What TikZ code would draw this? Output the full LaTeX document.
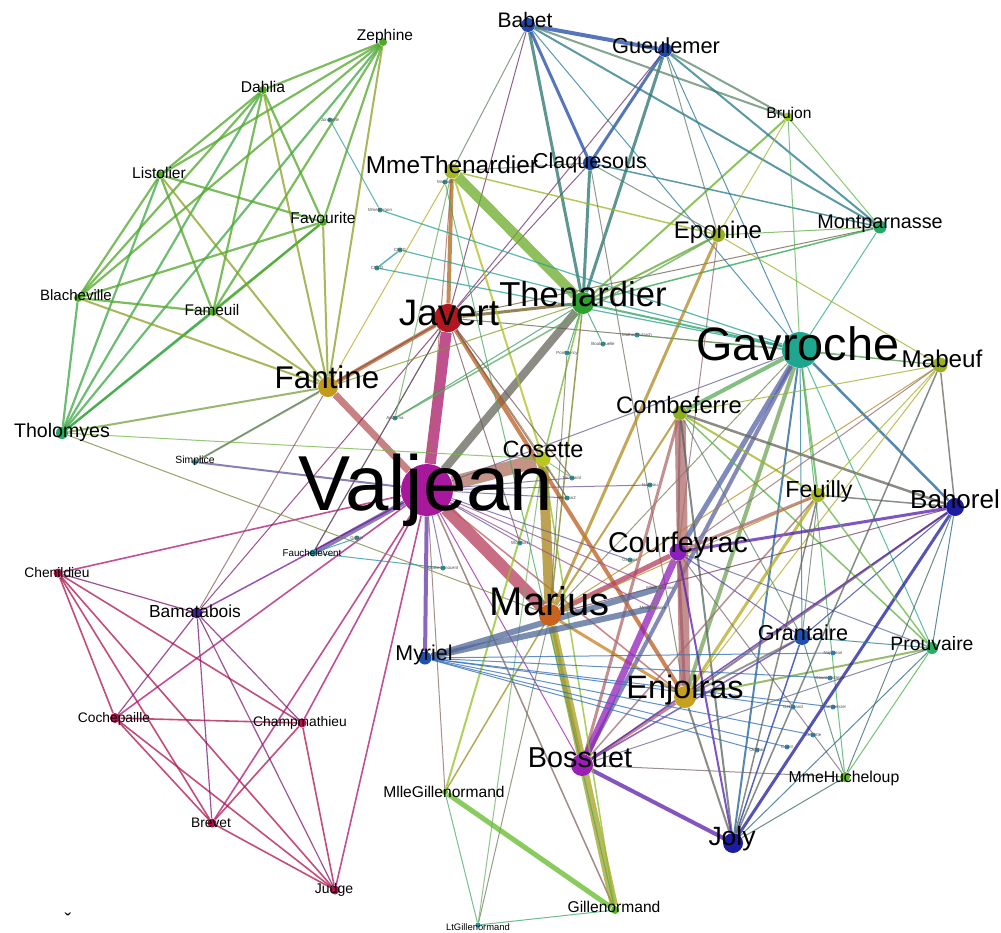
\documentclass[tikz,border=0pt]{standalone}
\usepackage{fontspec}
\setmainfont{Liberation Sans}
\pgfdeclarelayer{bg}
\pgfdeclarelayer{edges}
\pgfdeclarelayer{labels}
\pgfsetlayers{bg,edges,main,labels}
% node colours
\definecolor{cValjean}{HTML}{A8189C}
\definecolor{cJavert}{HTML}{B3161E}
\definecolor{cFantine}{HTML}{C49A1C}
\definecolor{cThenardier}{HTML}{2EA02E}
\definecolor{cMmeThenardier}{HTML}{A8B820}
\definecolor{cGavroche}{HTML}{1FA68E}
\definecolor{cMarius}{HTML}{C8621C}
\definecolor{cCosette}{HTML}{B8C820}
\definecolor{cEnjolras}{HTML}{C6A020}
\definecolor{cBossuet}{HTML}{9A1FB5}
\definecolor{cCourfeyrac}{HTML}{8A1FC0}
\definecolor{cJoly}{HTML}{1C1CA0}
\definecolor{cBahorel}{HTML}{1C1CA0}
\definecolor{cGrantaire}{HTML}{2050B0}
\definecolor{cProuvaire}{HTML}{28B060}
\definecolor{cMmeHucheloup}{HTML}{5AB520}
\definecolor{cMabeuf}{HTML}{9AB020}
\definecolor{cFeuilly}{HTML}{A5B820}
\definecolor{cCombeferre}{HTML}{8EB020}
\definecolor{cEponine}{HTML}{9AB020}
\definecolor{cMontparnasse}{HTML}{26A868}
\definecolor{cBrujon}{HTML}{9BC528}
\definecolor{cClaquesous}{HTML}{2048A8}
\definecolor{cGueulemer}{HTML}{2048A8}
\definecolor{cBabet}{HTML}{2048A8}
\definecolor{cZephine}{HTML}{4FA828}
\colorlet{cDahlia}{cZephine}
\colorlet{cListolier}{cZephine}
\colorlet{cFavourite}{cZephine}
\colorlet{cBlacheville}{cZephine}
\colorlet{cFameuil}{cZephine}
\definecolor{cTholomyes}{HTML}{26A860}
\definecolor{cChenildieu}{HTML}{B0124A}
\colorlet{cCochepaille}{cChenildieu}
\colorlet{cChampmathieu}{cChenildieu}
\colorlet{cBrevet}{cChenildieu}
\colorlet{cJudge}{cChenildieu}
\definecolor{cBamatabois}{HTML}{4A1A9E}
\definecolor{cMyriel}{HTML}{2050B0}
\definecolor{cMlleGillenormand}{HTML}{6BBF2B}
\definecolor{cGillenormand}{HTML}{5BB528}
\definecolor{cLtGillenormand}{HTML}{1F9AA8}
\definecolor{cSimplice}{HTML}{1F8FA8}
\definecolor{cFauchelevent}{HTML}{1F8FA8}
\definecolor{cTiny}{HTML}{2A9A9A}
\definecolor{cTinyB}{HTML}{3A88C0}
\definecolor{rosybrown}{HTML}{B06A6A}
\definecolor{darkgrayedge}{HTML}{66665C}
\colorlet{cJondrette}{cTiny}
\colorlet{cMmeBurgon}{cTiny}
\colorlet{cMagnon}{cTiny}
\colorlet{cChild1}{cTiny}
\colorlet{cChild2}{cTiny}
\colorlet{cAnzelma}{cTiny}
\colorlet{cPontmercy}{cTiny}
\colorlet{cBoulatruelle}{cTiny}
\colorlet{cMotherPlutarch}{cTiny}
\colorlet{cToussaint}{cTiny}
\colorlet{cWoman2}{cTiny}
\colorlet{cWoman1}{cTiny}
\colorlet{cGervais}{cTiny}
\colorlet{cIsabeau}{cTiny}
\colorlet{cMotherInnocent}{cTiny}
\colorlet{cGribier}{cTiny}
\colorlet{cMlleBaptistine}{gray}
\colorlet{cMmeMagloire}{gray}
\colorlet{cNapoleon}{cTinyB}
\colorlet{cCountessDeLo}{cTinyB}
\colorlet{cGeborand}{cTinyB}
\colorlet{cChamptercier}{cTinyB}
\colorlet{cCravatte}{cTinyB}
\colorlet{cCount}{cTinyB}
\colorlet{cOldMan}{cTinyB}
\tikzset{
  vtx/.style={circle,inner sep=0pt,draw=none},
  lab/.style={text=black,inner sep=0pt,anchor=base},
  edge/.style={opacity=0.75},
}
\newcommand\V[7]{%
  \node[vtx,fill=c#1,minimum size=#4*0.5pt] (#1) at (#2,#3) {};
  \begin{pgfonlayer}{labels}
  \node[lab,font=\fontsize{#5}{#5}\selectfont] (#1-t) at (#6,#7) {#1};
  \end{pgfonlayer}}
\newcommand\T[3]{%
  \node[vtx,fill=c#1,minimum size=2.5pt] (#1) at (#2,#3) {};
  \begin{pgfonlayer}{labels}
  \node[lab,font=\fontsize{2.2}{2.2}\selectfont,text=black!70] (#1-t) at (#2,#3+1.5) {#1};
  \end{pgfonlayer}}
\newcommand\E[3]{\draw[edge,line width=#3*0.5pt,draw=c#1!50!c#2] (#1) -- (#2);}
\newcommand\Ec[4]{\draw[edge,line width=#3*0.5pt,draw=#4] (#1) -- (#2);}
\begin{document}
\begin{tikzpicture}[x=0.5pt,y=-0.5pt]
\begin{pgfonlayer}{bg}
\fill[white] (0,0) rectangle (1001,932);
\end{pgfonlayer}
\useasboundingbox (0,0) rectangle (1001,932);
% ---------------- nodes ----------------
\V{Valjean}{427}{490}{52}{39}{426}{510}
\V{Gavroche}{800}{350}{36}{23.4}{798}{360}
\V{Thenardier}{583}{303}{22}{17.3}{583}{306}
\V{Javert}{448}{318}{28}{18.4}{449}{325}
\V{MmeThenardier}{452}{171}{15}{12.2}{452}{173}
\V{Fantine}{328}{387}{20}{15.7}{327}{388}
\V{Cosette}{543}{459}{15}{11.75}{543}{457}
\V{Marius}{550}{615}{22}{20}{550}{615}
\V{Courfeyrac}{678}{552}{17}{14.3}{678}{552}
\V{Enjolras}{685}{697}{22}{16.2}{685}{698}
\V{Bossuet}{582}{765}{22}{14.4}{580}{767}
\V{Joly}{733}{843}{20}{13.2}{732}{845}
\V{Grantaire}{802}{637}{16}{10.8}{803}{640}
\V{Prouvaire}{932}{648}{12}{9.7}{932}{650}
\V{Feuilly}{818}{495}{14}{11.6}{819}{497}
\V{Bahorel}{955}{507}{18}{13}{955}{508}
\V{MmeHucheloup}{845}{777}{10}{7.9}{844}{782}
\V{Gillenormand}{615}{910}{8}{7.8}{614}{912}
\V{Combeferre}{680}{413}{14}{11.9}{679}{413}
\V{Mabeuf}{940}{365}{15}{12.1}{942}{367}
\V{Eponine}{718}{235}{14}{12}{718}{238}
\V{Montparnasse}{880}{227}{13}{9.9}{880}{228}
\V{Brujon}{788}{117}{9}{7.8}{789}{118}
\V{Claquesous}{590}{163}{14}{10.8}{590}{168}
\V{Gueulemer}{665}{50}{14}{10.9}{666}{53}
\V{Babet}{528}{25}{14}{10.5}{525}{27}
\V{Zephine}{383}{42}{8}{7.75}{385}{40}
\V{Dahlia}{263}{90}{8}{7.8}{263}{92}
\V{Listolier}{160}{175}{8}{7.8}{159}{178}
\V{Favourite}{323}{222}{8}{7.8}{323}{223}
\V{Blacheville}{78}{298}{8}{7.5}{76}{300}
\V{Fameuil}{213}{312}{8}{7.7}{212}{315}
\V{Tholomyes}{62}{433}{12}{9.8}{62}{437}
\V{Chenildieu}{58}{573}{9}{6.9}{57}{577}
\V{Bamatabois}{197}{613}{11}{8.7}{195}{617}
\V{Cochepaille}{115}{718}{10}{6.9}{114}{722}
\V{Champmathieu}{302}{723}{9}{6.9}{300}{726}
\V{Brevet}{212}{823}{9}{6.9}{211}{827}
\V{Judge}{335}{890}{9}{7}{334}{893}
\V{Myriel}{425}{658}{13}{10.7}{424}{660}
\V{MlleGillenormand}{445}{792}{6}{7.8}{444}{797}
\V{LtGillenormand}{478}{925}{5}{4.7}{478}{930}
\V{Simplice}{195}{462}{6}{5.2}{195}{463}
\V{Fauchelevent}{313}{553}{7}{4.9}{312}{556}
% tiny nodes
\T{Jondrette}{330}{120}
\T{MmeBurgon}{380}{210}
\T{Magnon}{445}{182}
\T{Child1}{400}{250}
\T{Child2}{377}{268}
\T{Anzelma}{395}{418}
\T{Pontmercy}{567}{353}
\T{Boulatruelle}{603}{344}
\T{MotherPlutarch}{637}{335}
\T{Toussaint}{572}{478}
\T{Woman2}{567}{498}
\T{Woman1}{520}{543}
\T{Gervais}{630}{560}
\T{Isabeau}{650}{485}
\T{MotherInnocent}{443}{568}
\T{Gribier}{357}{538}
\T{MlleBaptistine}{660}{588}
\T{MmeMagloire}{653}{608}
\T{Napoleon}{833}{653}
\T{CountessDeLo}{830}{678}
\T{Geborand}{793}{707}
\T{Champtercier}{833}{707}
\T{Cravatte}{813}{735}
\T{Count}{787}{747}
\T{OldMan}{757}{750}
\node[text=black,inner sep=0pt,anchor=north,font=\fontsize{10}{10}\selectfont] (mark) at (68,913) {ˇ};
% ---------------- edges ----------------
\begin{pgfonlayer}{edges}
% Tholomyes group
\foreach \a/\b in {Tholomyes/Listolier,Tholomyes/Fameuil,Tholomyes/Blacheville,Tholomyes/Favourite,Tholomyes/Dahlia,Tholomyes/Zephine,
  Listolier/Fameuil,Listolier/Blacheville,Listolier/Favourite,Listolier/Dahlia,Listolier/Zephine,
  Fameuil/Blacheville,Fameuil/Favourite,Fameuil/Dahlia,Fameuil/Zephine,
  Blacheville/Favourite,Blacheville/Dahlia,Blacheville/Zephine,
  Favourite/Dahlia,Favourite/Zephine,Dahlia/Zephine}{\E{\a}{\b}{2.2}}
\foreach \a in {Tholomyes,Listolier,Fameuil,Blacheville,Favourite,Dahlia,Zephine}{\E{\a}{Fantine}{2}}
% Judge group
\foreach \a/\b in {Judge/Champmathieu,Judge/Brevet,Judge/Chenildieu,Judge/Cochepaille,Champmathieu/Brevet,Champmathieu/Chenildieu,Champmathieu/Cochepaille,Brevet/Chenildieu,Brevet/Cochepaille,Chenildieu/Cochepaille}{\E{\a}{\b}{1.6}}
\foreach \a in {Judge,Champmathieu,Brevet,Chenildieu,Cochepaille}{\E{\a}{Bamatabois}{1.2}\E{\a}{Valjean}{1.6}}
% Valjean
\E{Valjean}{Cosette}{14}
\Ec{Valjean}{Javert}{11}{cValjean!60!cJavert}
\E{Valjean}{Marius}{12}
\E{Valjean}{Fantine}{7}
\Ec{Valjean}{Thenardier}{8}{darkgrayedge}
\E{Valjean}{Myriel}{4}
\E{Valjean}{Fauchelevent}{5}
\E{Valjean}{Simplice}{2}
\E{Valjean}{Bamatabois}{1.5}
\E{Valjean}{MmeThenardier}{1}
\E{Valjean}{Gavroche}{1}
\E{Valjean}{Enjolras}{1.5}
\E{Valjean}{Gillenormand}{1.5}
\E{Valjean}{MlleGillenormand}{1}
\E{Valjean}{Bossuet}{1}
% Javert
\E{Javert}{MmeThenardier}{4}
\E{Javert}{Thenardier}{3}
\E{Javert}{Fantine}{4}
\E{Javert}{Enjolras}{4}
\E{Javert}{Cosette}{1}
\E{Javert}{Gavroche}{1}
\E{Javert}{Bamatabois}{1}
\E{Javert}{Simplice}{1}
\E{Javert}{Fauchelevent}{1}
\E{Javert}{Babet}{1}
\E{Javert}{Gueulemer}{1}
\E{Javert}{Claquesous}{1}
\E{Javert}{Montparnasse}{1}
% Thenardier
\E{Thenardier}{MmeThenardier}{10}
\E{Thenardier}{Babet}{3}
\E{Thenardier}{Gueulemer}{3}
\E{Thenardier}{Claquesous}{3}
\E{Thenardier}{Montparnasse}{1.5}
\E{Thenardier}{Brujon}{2}
\E{Thenardier}{Eponine}{2}
\E{Thenardier}{Gavroche}{2}
\E{Thenardier}{Marius}{1.5}
\E{Thenardier}{Cosette}{1.5}
\E{Thenardier}{Fantine}{1}
\E{MmeThenardier}{Eponine}{1.5}
\E{MmeThenardier}{Cosette}{2}
\E{MmeThenardier}{Fantine}{1}
\E{MmeThenardier}{Babet}{1}
\E{MmeThenardier}{Claquesous}{1}
% gang
\E{Babet}{Gueulemer}{4}
\E{Babet}{Claquesous}{3}
\E{Gueulemer}{Claquesous}{3}
\E{Babet}{Brujon}{2}
\E{Gueulemer}{Brujon}{2}
\E{Babet}{Montparnasse}{2}
\E{Gueulemer}{Montparnasse}{2}
\E{Claquesous}{Montparnasse}{1.5}
\E{Brujon}{Montparnasse}{1}
\E{Brujon}{Gavroche}{1}
\E{Babet}{Gavroche}{1}
\E{Gueulemer}{Gavroche}{1}
\E{Montparnasse}{Gavroche}{1}
\E{Claquesous}{Eponine}{1}
\E{Gueulemer}{Eponine}{1}
\E{Brujon}{Eponine}{1}
\E{Montparnasse}{Eponine}{1}
\E{Claquesous}{Enjolras}{1}
% Eponine
\E{Eponine}{Marius}{3}
\E{Eponine}{Mabeuf}{1}
\E{Eponine}{Courfeyrac}{1}
% Gavroche
\E{Gavroche}{Courfeyrac}{5}
\E{Gavroche}{Bossuet}{4}
\E{Gavroche}{Enjolras}{4}
\E{Gavroche}{Combeferre}{4}
\E{Gavroche}{Joly}{2}
\E{Gavroche}{Bahorel}{2.5}
\E{Gavroche}{Feuilly}{2}
\E{Gavroche}{Prouvaire}{1}
\E{Gavroche}{Grantaire}{1}
\E{Gavroche}{Mabeuf}{1}
\E{Gavroche}{MmeHucheloup}{1}
\E{Gavroche}{Marius}{1}
% Combeferre
\Ec{Combeferre}{Enjolras}{11}{rosybrown}
\E{Combeferre}{Marius}{2}
\E{Combeferre}{Courfeyrac}{2}
\Ec{Combeferre}{Bossuet}{3}{rosybrown}
\E{Combeferre}{Feuilly}{2}
\Ec{Combeferre}{Bahorel}{2.5}{darkgrayedge}
\E{Combeferre}{Joly}{2}
\E{Combeferre}{Prouvaire}{1.5}
\E{Combeferre}{Grantaire}{1}
\E{Combeferre}{Mabeuf}{1}
% Enjolras
\E{Enjolras}{Marius}{3}
\E{Enjolras}{Courfeyrac}{3}
\E{Enjolras}{Bossuet}{3}
\Ec{Enjolras}{Joly}{2}{darkgrayedge}
\E{Enjolras}{Bahorel}{2}
\E{Enjolras}{Feuilly}{3}
\E{Enjolras}{Grantaire}{2}
\E{Enjolras}{Prouvaire}{2}
\E{Enjolras}{Mabeuf}{1}
% Courfeyrac
\E{Courfeyrac}{Bossuet}{7}
\Ec{Courfeyrac}{Marius}{5}{cValjean!50!cMarius}
\E{Courfeyrac}{Joly}{2}
\E{Courfeyrac}{Bahorel}{3}
\Ec{Courfeyrac}{Feuilly}{3}{rosybrown}
\E{Courfeyrac}{Grantaire}{1}
\E{Courfeyrac}{Prouvaire}{1}
\E{Courfeyrac}{MmeHucheloup}{1}
\E{Courfeyrac}{Mabeuf}{1}
% Bossuet
\E{Bossuet}{Joly}{4}
\Ec{Bossuet}{Marius}{3}{rosybrown}
\E{Bossuet}{Bahorel}{1.5}
\E{Bossuet}{Feuilly}{1.5}
\E{Bossuet}{Grantaire}{1.5}
\E{Bossuet}{Prouvaire}{1}
\E{Bossuet}{MmeHucheloup}{1}
% Joly, Bahorel, Feuilly, Grantaire
\E{Joly}{Bahorel}{3}
\E{Joly}{Grantaire}{1.5}
\Ec{Joly}{Feuilly}{1.5}{darkgrayedge}
\E{Joly}{Prouvaire}{1}
\E{Joly}{Mabeuf}{1.5}
\E{Joly}{MmeHucheloup}{1}
\E{Bahorel}{Feuilly}{1.5}
\E{Bahorel}{Grantaire}{1}
\E{Bahorel}{Prouvaire}{1}
\Ec{Bahorel}{Mabeuf}{1.5}{darkgrayedge}
\E{Bahorel}{MmeHucheloup}{1}
\E{Bahorel}{Marius}{1}
\E{Feuilly}{Grantaire}{1}
\E{Feuilly}{Prouvaire}{1.5}
\E{Feuilly}{Mabeuf}{1}
\E{Feuilly}{Marius}{1}
\E{Grantaire}{Prouvaire}{1}
\E{Grantaire}{MmeHucheloup}{1}
\E{Prouvaire}{MmeHucheloup}{1}
\E{Mabeuf}{Marius}{1}
% Marius / Gillenormand
\Ec{Marius}{Cosette}{10}{cFantine!85!black}
\Ec{Marius}{Gillenormand}{8}{cFantine!70!cGillenormand}
\E{Marius}{MlleGillenormand}{1.5}
\E{Marius}{LtGillenormand}{1}
\E{Marius}{Tholomyes}{1}
\E{Gillenormand}{MlleGillenormand}{5}
\E{Gillenormand}{Cosette}{1.5}
\E{Gillenormand}{LtGillenormand}{1}
\E{MlleGillenormand}{Cosette}{2}
\E{MlleGillenormand}{LtGillenormand}{1}
\E{LtGillenormand}{Cosette}{1}
\E{Cosette}{Tholomyes}{1}
% Fantine, Simplice, Fauchelevent
\E{Fantine}{Simplice}{2}
\E{Fantine}{Bamatabois}{1}
\E{Fauchelevent}{Javert}{1}
% tiny nodes
\E{Jondrette}{MmeBurgon}{1}
\E{MmeBurgon}{Gavroche}{1.2}
\E{Child1}{Child2}{1.5}
\E{Child1}{Gavroche}{1.2}
\E{Child2}{Gavroche}{1.2}
\E{Magnon}{MmeThenardier}{1}
\E{Magnon}{Gillenormand}{1}
\E{Anzelma}{Thenardier}{1}
\E{Anzelma}{MmeThenardier}{1}
\E{Anzelma}{Eponine}{1.5}
\E{Pontmercy}{Thenardier}{1}
\E{Pontmercy}{Marius}{1}
\E{Boulatruelle}{Thenardier}{1}
\E{MotherPlutarch}{Mabeuf}{1}
\E{Toussaint}{Cosette}{1}
\E{Toussaint}{Javert}{1}
\E{Toussaint}{Valjean}{1}
\E{Woman2}{Cosette}{1}
\E{Woman2}{Valjean}{1}
\E{Woman2}{Javert}{1}
\E{Woman1}{Valjean}{1}
\E{Woman1}{Javert}{1}
\E{Gervais}{Valjean}{1}
\E{Isabeau}{Valjean}{1}
\E{MotherInnocent}{Fauchelevent}{1}
\E{MotherInnocent}{Valjean}{1}
\E{Gribier}{Fauchelevent}{1}
\E{MlleBaptistine}{Myriel}{6}
\E{MmeMagloire}{Myriel}{6}
\E{MlleBaptistine}{MmeMagloire}{2}
\E{MlleBaptistine}{Valjean}{1}
\E{MmeMagloire}{Valjean}{1}
\foreach \a in {Napoleon,CountessDeLo,Geborand,Champtercier,Cravatte,Count,OldMan}{\E{\a}{Myriel}{1}}
\end{pgfonlayer}
\end{tikzpicture}
\end{document}
